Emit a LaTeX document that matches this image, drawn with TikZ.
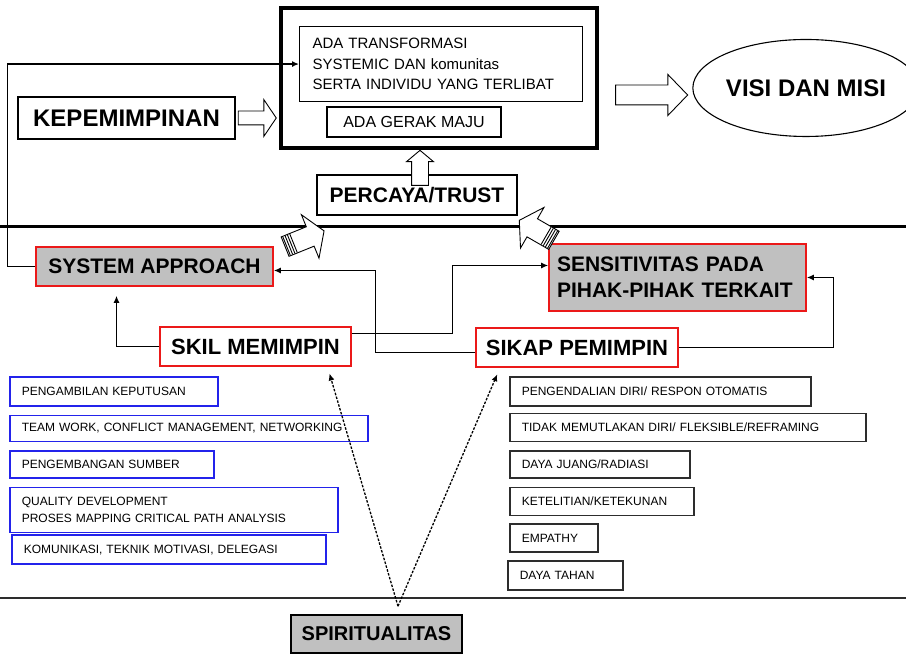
\documentclass[tikz,border=0pt]{standalone}
\usepackage{fontspec}
\setmainfont{Liberation Sans}
\usepackage{tikz}
\usetikzlibrary{arrows.meta,shapes.geometric,shapes.arrows,positioning,calc}
\definecolor{LineRed}{RGB}{235,25,25}
\definecolor{BoxGray}{RGB}{192,192,192}
\definecolor{LineBlue}{RGB}{35,35,235}
\definecolor{LineDark}{RGB}{45,45,45}

\begin{document}
\begin{tikzpicture}[x=1pt, y=1pt,
    big/.style={font={\fontsize{21}{26}\selectfont\bfseries}},
    small/.style={font={\fontsize{12}{17}\selectfont}},
    mid/.style={font={\fontsize{15}{20.5}\selectfont}},
    plain/.style={draw, line width=1.6pt, inner sep=0pt},
    keybox/.style={plain, fill=BoxGray, draw=LineRed, big},
    redbox/.style={plain, fill=white, draw=LineRed, big},
    listbox/.style={draw, line width=1.6pt, inner xsep=12pt, inner ysep=0pt, align=left, small},
    leftlist/.style={listbox, draw=LineBlue},
    rightlist/.style={listbox, draw=LineDark},
    blockarrow/.style={single arrow, draw, fill=white, line width=0.9pt, inner sep=0pt, minimum width=0pt},
    link/.style={-{Latex[length=7pt,width=6pt]}, line width=1.3pt},
    dotlink/.style={link, dash pattern=on 2.5pt off 1.5pt, shorten >=7pt}
  ]
  \useasboundingbox (0,0) rectangle (906,655);

  % upper part
  \node[draw, line width=3.5pt, minimum width=316pt, minimum height=140pt] (main) at (439,577) {};
  \node[plain, line width=1.1pt, anchor=north west, inner xsep=13pt, text width=257pt, minimum height=75pt, align=left, mid] (trans) at (299,629)
    {ADA TRANSFORMASI\\SYSTEMIC DAN komunitas\\SERTA INDIVIDU YANG TERLIBAT};
  \node[plain, line width=1.1pt, minimum width=174pt, minimum height=30pt, font={\fontsize{16}{20}\selectfont}] (maju) at (414,533) {ADA GERAK MAJU};
  \node[plain, minimum width=217pt, minimum height=42pt, font={\fontsize{24}{28}\selectfont\bfseries}] (kep) at (126.5,537) {KEPEMIMPINAN};
  \node[draw, ellipse, line width=1.1pt, minimum width=191pt, minimum height=97pt, inner sep=0pt, font={\fontsize{24}{28}\selectfont\bfseries}] (visi) at (806,567) {VISI DAN MISI};
  \node[plain, minimum width=200pt, minimum height=40pt, big] (trust) at (417,460) {PERCAYA/TRUST};

  \node[blockarrow, right=2pt of kep, minimum height=38pt, inner ysep=6.5pt, single arrow head extend=11.5pt, single arrow tip angle=112] (kepto) {};
  \node[blockarrow, left=4pt of visi, yshift=-7pt, minimum height=72pt, inner ysep=9.5pt, single arrow head extend=10.5pt, single arrow tip angle=92] (visito) {};
  \node[blockarrow, rotate=90, anchor=tip, minimum height=35pt, inner ysep=8pt, single arrow head extend=5pt, single arrow tip angle=100] (trustto) at ([xshift=-19pt]main.south) {};

  % separator lines
  \draw[line width=3pt] (0,428) -- (906,428);
  \draw[line width=2pt, LineDark] (0,57) -- (906,57);

  % middle part
  \node[keybox, minimum width=237pt, minimum height=39pt] (system) at (154.5,388.5) {SYSTEM APPROACH};
  \node[keybox, minimum height=67pt, inner xsep=8pt, text width=241pt, align=left] (sens) at (677.5,377.5) {SENSITIVITAS PADA\\PIHAK-PIHAK TERKAIT};
  \node[redbox, minimum width=191pt, minimum height=39pt, font={\fontsize{22}{26}\selectfont\bfseries}] (skil) at (255.5,308.5) {SKIL MEMIMPIN};
  \node[redbox, minimum width=202pt, minimum height=39pt, font={\fontsize{22}{26}\selectfont\bfseries}] (sikap) at (577,307.5) {SIKAP PEMIMPIN};

  \node[blockarrow, rotate=22, minimum height=42pt, inner ysep=10pt, single arrow head extend=13pt, single arrow tip angle=115] (sysup) at (301.5,415) {};
  \node[blockarrow, rotate=150, minimum height=40pt, inner ysep=10pt, single arrow head extend=13pt, single arrow tip angle=115] (sensup) at (539.5,423) {};
  \foreach \d in {2,4.5,7,9.5} {
    \draw[line width=0.9pt] ($(sysup.tail)+(22:\d)+(112:10)$) -- ($(sysup.tail)+(22:\d)+(-68:10)$);
    \draw[line width=0.9pt] ($(sensup.tail)+(150:\d)+(240:10)$) -- ($(sensup.tail)+(150:\d)+(60:10)$);
  }

  \draw[link] (system.west) -- ++(-28,0) |- (trans.west);
  \draw[link, shorten >=9pt] (skil.west) -| ([xshift=-38pt]system.south);
  \draw[link] ([yshift=13pt]skil.east) -- ++(101,0) |- ([yshift=12pt]sens.west);
  \draw[link] ([yshift=-5pt]sikap.west) -- ++(-100,0) |- ([yshift=-4pt]system.east);
  \draw[link] (sikap.east) -- ++(155,0) |- (sens.east);

  % skill list
  \node[leftlist, anchor=north west, text width=184pt, minimum height=29pt] (decide) at (9,279) {PENGAMBILAN KEPUTUSAN};
  \node[leftlist, below=8pt of decide.south west, anchor=north west, text width=334pt, minimum height=26pt] (team) {TEAM WORK, CONFLICT MANAGEMENT, NETWORKING};
  \node[leftlist, below=8pt of team.south west, anchor=north west, text width=180pt, minimum height=27pt] (source) {PENGEMBANGAN SUMBER};
  \node[leftlist, below=8pt of source.south west, anchor=north west, text width=304pt, minimum height=45pt] (quality) {QUALITY DEVELOPMENT\\PROSES MAPPING CRITICAL PATH ANALYSIS};
  \node[leftlist, below=1pt of quality.south west, anchor=north west, xshift=2pt, text width=290pt, minimum height=29pt] (talk) {KOMUNIKASI, TEKNIK MOTIVASI, DELEGASI};

  % attitude list
  \node[rightlist, anchor=north west, text width=277pt, minimum height=29pt] (control) at (509,279) {PENGENDALIAN DIRI/ RESPON OTOMATIS};
  \node[rightlist, below=6pt of control.south west, anchor=north west, text width=332pt, minimum height=28pt] (flex) {TIDAK MEMUTLAKAN DIRI/ FLEKSIBLE/REFRAMING};
  \node[rightlist, below=8pt of flex.south west, anchor=north west, text width=156pt, minimum height=27pt] (fight) {DAYA JUANG/RADIASI};
  \node[rightlist, below=8pt of fight.south west, anchor=north west, text width=160pt, minimum height=28pt] (care) {KETELITIAN/KETEKUNAN};
  \node[rightlist, below=7pt of care.south west, anchor=north west, text width=64pt, minimum height=28pt] (empathy) {EMPATHY};
  \node[rightlist, below=7pt of empathy.south west, anchor=north west, xshift=-2pt, text width=91pt, minimum height=29pt] (endure) {DAYA TAHAN};

  % base
  \node[plain, fill=BoxGray, minimum width=171pt, minimum height=38pt, font={\fontsize{20}{24}\selectfont\bfseries}] (spirit) at (376.5,21) {SPIRITUALITAS};
  \coordinate (v) at ([xshift=21.5pt,yshift=8pt]spirit.north);
  \draw[dotlink] (v) -- ([xshift=72pt]skil.south);
  \draw[dotlink] (v) -- ([xshift=-77pt]sikap.south);
\end{tikzpicture}
\end{document}
